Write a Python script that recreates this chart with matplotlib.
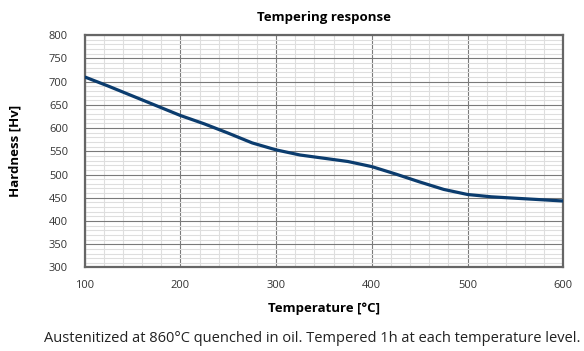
import numpy as np
import matplotlib
matplotlib.use("Agg")
from matplotlib import pyplot as plt
import matplotlib.ticker as ticker

plt.rcParams['font.family'] = ['Open Sans', 'DejaVu Sans']

# tempering curve, hardness read at 25 degC steps
temp = [100, 125, 150, 175, 200, 225, 250, 275, 300, 325, 350,
        375, 400, 425, 450, 475, 500, 525, 550, 575, 600]
hardness = [710, 690, 669, 648, 627, 609, 589, 568, 553, 542, 535,
            528, 517, 501, 484, 468, 457, 452, 449, 446, 443]

xticks = [100, 200, 300, 400, 500, 600]
yticks = [300, 350, 400, 450, 500, 550, 600, 650, 700, 750, 800]

fig = plt.figure(figsize=(5.84, 3.51), dpi=100)
ax = fig.add_axes([0.145, 0.238, 0.8195, 0.662])

ax.plot(temp, hardness, c="#0b3c6e", lw=2.3, solid_capstyle='butt', zorder=3)

ax.set_xlim(100, 600)
ax.set_ylim(300, 800)
ax.set_xticks(xticks)
ax.set_yticks(yticks)
ax.xaxis.set_minor_locator(ticker.MultipleLocator(20))
ax.yaxis.set_minor_locator(ticker.MultipleLocator(10))
ax.grid(which='minor', color='#dedede', lw=0.8)
ax.grid(which='major', color='#7a7a7a', lw=0.8)
ax.set_axisbelow(True)
ax.tick_params(which='both', length=0)
ax.tick_params(axis='y', pad=12, labelsize=8, colors='#333333')
ax.tick_params(axis='x', pad=9, labelsize=8, colors='#333333')
for s in ax.spines.values():
    s.set_color('#666666')
    s.set_linewidth(1.6)

ax.set_title("Tempering response", fontsize=9.5, fontweight='bold', pad=10)
ax.set_xlabel("Temperature [°C]", fontsize=9.5, fontweight='bold', labelpad=8)
ax.set_ylabel("Hardness [Hv]", fontsize=9.5, fontweight='bold', labelpad=20)

fig.text(312 / 584, 1 - 338 / 351,
         "Austenitized at 860°C quenched in oil. Tempered 1h at each temperature level.",
         fontsize=10.5, ha='center', va='center', color='#222222')

plt.savefig('out.png', dpi=100)
